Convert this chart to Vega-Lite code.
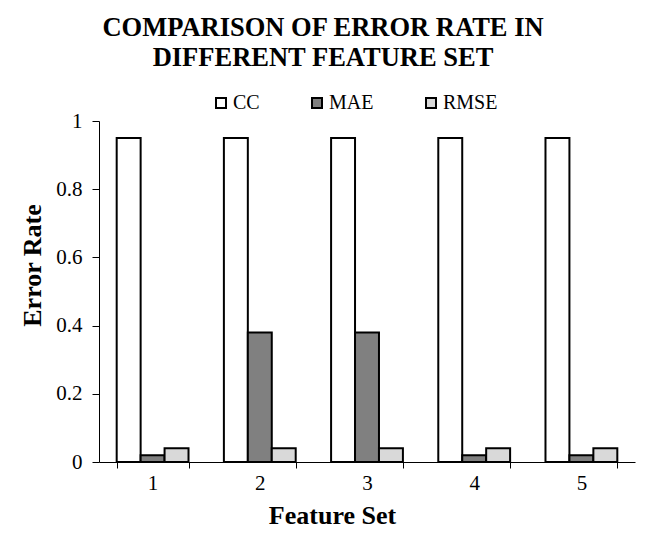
{
  "$schema": "https://vega.github.io/schema/vega-lite/v6.json",
  "autosize": {"type": "none"},
  "padding": {"left": 99, "top": 121, "right": 11, "bottom": 71},
  "width": 536,
  "height": 341,
  "background": "white",
  "title": {
    "text": ["COMPARISON OF ERROR RATE IN", "DIFFERENT FEATURE SET"],
    "font": "Liberation Serif",
    "fontSize": 26.5,
    "fontWeight": "bold",
    "color": "black",
    "anchor": "middle",
    "dx": -44,
    "offset": 22,
    "lineHeight": 30
  },
  "data": {
    "values": [
      {"set": "1", "metric": "CC", "value": 0.95},
      {"set": "1", "metric": "MAE", "value": 0.02},
      {"set": "1", "metric": "RMSE", "value": 0.04},
      {"set": "2", "metric": "CC", "value": 0.95},
      {"set": "2", "metric": "MAE", "value": 0.38},
      {"set": "2", "metric": "RMSE", "value": 0.04},
      {"set": "3", "metric": "CC", "value": 0.95},
      {"set": "3", "metric": "MAE", "value": 0.38},
      {"set": "3", "metric": "RMSE", "value": 0.04},
      {"set": "4", "metric": "CC", "value": 0.95},
      {"set": "4", "metric": "MAE", "value": 0.02},
      {"set": "4", "metric": "RMSE", "value": 0.04},
      {"set": "5", "metric": "CC", "value": 0.95},
      {"set": "5", "metric": "MAE", "value": 0.02},
      {"set": "5", "metric": "RMSE", "value": 0.04}
    ]
  },
  "mark": {"type": "bar", "stroke": "black", "strokeWidth": 2},
  "encoding": {
    "x": {
      "field": "set",
      "type": "nominal",
      "scale": {"paddingInner": 0.33, "paddingOuter": 0.165},
      "axis": {
        "title": "Feature Set",
        "titleX": 233,
        "labelAngle": 0,
        "tickBand": "extent",
        "domainColor": "black",
        "tickColor": "black",
        "tickSize": 6,
        "labelPadding": 4,
        "labelFont": "Liberation Serif",
        "labelFontSize": 21,
        "labelColor": "black",
        "titleFont": "Liberation Serif",
        "titleFontSize": 26,
        "titleFontWeight": "bold",
        "titleColor": "black",
        "titlePadding": 9
      }
    },
    "xOffset": {"field": "metric", "type": "nominal", "sort": ["CC", "MAE", "RMSE"]},
    "y": {
      "field": "value",
      "type": "quantitative",
      "scale": {"domain": [0, 1]},
      "axis": {
        "title": "Error Rate",
        "titleY": 144,
        "values": [0, 0.2, 0.4, 0.6, 0.8, 1],
        "format": "~g",
        "grid": false,
        "domainColor": "black",
        "tickColor": "black",
        "tickSize": 7,
        "labelPadding": 10,
        "labelFont": "Liberation Serif",
        "labelFontSize": 21,
        "labelColor": "black",
        "titleFont": "Liberation Serif",
        "titleFontSize": 26,
        "titleFontWeight": "bold",
        "titleColor": "black",
        "titlePadding": 10
      }
    },
    "fill": {
      "field": "metric",
      "type": "nominal",
      "sort": ["CC", "MAE", "RMSE"],
      "scale": {"domain": ["CC", "MAE", "RMSE"], "range": ["#ffffff", "#808080", "#d9d9d9"]},
      "legend": {
        "title": null,
        "orient": "none",
        "legendX": 112,
        "legendY": -28,
        "direction": "horizontal",
        "symbolType": "square",
        "symbolSize": 100,
        "symbolStrokeColor": "black",
        "symbolStrokeWidth": 2,
        "labelFont": "Liberation Serif",
        "labelFontSize": 20,
        "labelColor": "black",
        "labelOffset": 2,
        "columnPadding": 47
      }
    }
  },
  "config": {
    "view": {"stroke": null}
  }
}
